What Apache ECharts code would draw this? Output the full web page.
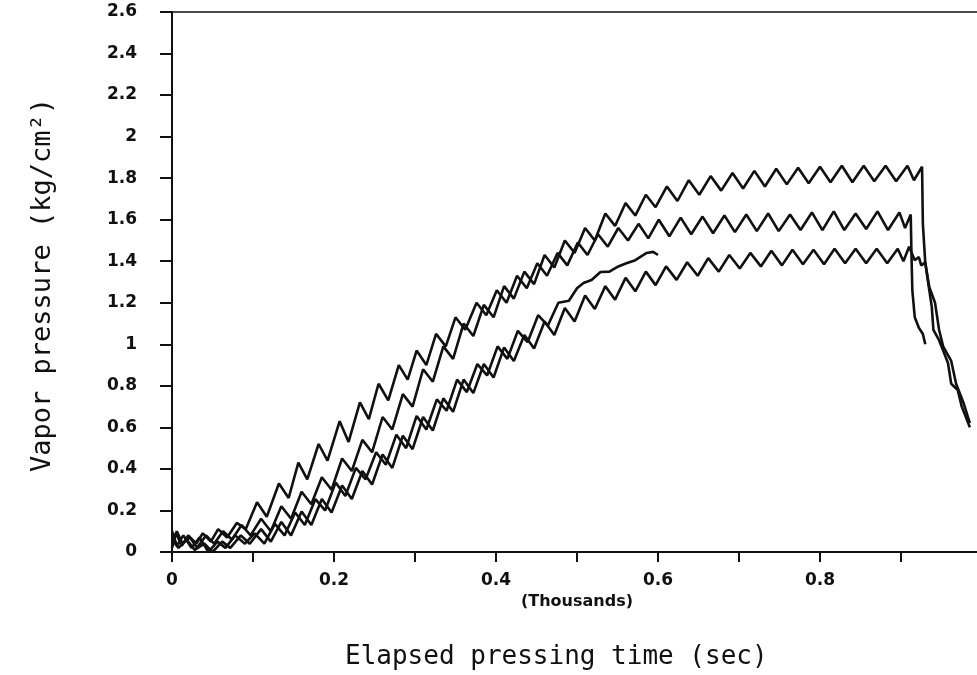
<!DOCTYPE html>
<html lang="en">
<head>
  <meta charset="utf-8">
  <style>
    html, body { margin: 0; padding: 0; background: #fff; }
    #container { width: 977px; height: 675px; }
  </style>
</head>
<body>
  <div id="container"></div>
  <script type="text/javascript" src="https://fastly.jsdelivr.net/npm/echarts@6/dist/echarts.min.js"></script>
  <script type="text/javascript">
    // elapsed time in thousands of seconds, vapor pressure in kg/cm2
    var curveA = [
      [0,0.02],[0.005,0.09],[0.012,0.03],[0.02,0.08],[0.03,0.04],[0.038,0.09],[0.048,0.05],[0.057,0.11],[0.068,0.07],[0.08,0.14],[0.091,0.11],
      [0.105,0.24],[0.117,0.17],[0.132,0.33],[0.144,0.26],[0.156,0.43],[0.167,0.35],[0.181,0.52],[0.192,0.44],[0.207,0.63],[0.218,0.53],
      [0.232,0.72],[0.243,0.64],[0.255,0.81],[0.267,0.73],[0.28,0.9],[0.291,0.83],[0.302,0.97],[0.314,0.9],[0.326,1.05],[0.338,0.99],
      [0.35,1.13],[0.362,1.07],[0.376,1.2],[0.388,1.14],[0.401,1.26],[0.413,1.2],[0.426,1.33],[0.438,1.27],[0.451,1.39],[0.463,1.33],
      [0.476,1.44],[0.488,1.38],[0.501,1.49],[0.513,1.43],[0.526,1.53],[0.538,1.47],[0.551,1.56],[0.563,1.5],[0.576,1.58],[0.588,1.51],
      [0.601,1.6],[0.614,1.52],[0.628,1.61],[0.641,1.53],[0.655,1.615],[0.668,1.535],[0.682,1.62],[0.695,1.54],[0.709,1.625],[0.722,1.545],
      [0.736,1.63],[0.749,1.545],[0.763,1.625],[0.776,1.55],[0.79,1.635],[0.803,1.55],[0.817,1.64],[0.83,1.55],[0.844,1.63],[0.857,1.555],
      [0.871,1.64],[0.884,1.55],[0.898,1.635],[0.905,1.56],[0.912,1.625],[0.913,1.42],[0.914,1.26],[0.917,1.13],[0.922,1.08],[0.927,1.05],[0.93,1.0]
    ];
    var curveB = [
      [0,0.05],[0.006,0.1],[0.013,0.04],[0.022,0.07],[0.031,0.02],[0.042,0.08],[0.052,0.04],[0.063,0.1],[0.074,0.06],[0.086,0.13],[0.097,0.08],
      [0.11,0.16],[0.122,0.1],[0.135,0.22],[0.147,0.16],[0.16,0.29],[0.172,0.23],[0.185,0.36],[0.197,0.3],[0.21,0.45],[0.222,0.39],
      [0.235,0.54],[0.247,0.48],[0.26,0.65],[0.272,0.59],[0.285,0.76],[0.297,0.7],[0.31,0.88],[0.322,0.82],[0.335,0.99],[0.347,0.93],
      [0.36,1.1],[0.372,1.04],[0.385,1.19],[0.397,1.13],[0.41,1.28],[0.422,1.22],[0.435,1.35],[0.447,1.29],[0.46,1.43],[0.472,1.37],
      [0.485,1.5],[0.497,1.44],[0.51,1.56],[0.522,1.5],[0.535,1.63],[0.547,1.57],[0.56,1.68],[0.572,1.62],[0.585,1.72],[0.597,1.66],
      [0.611,1.76],[0.624,1.69],[0.638,1.79],[0.651,1.72],[0.665,1.81],[0.678,1.74],[0.692,1.825],[0.705,1.75],[0.719,1.835],[0.732,1.76],
      [0.746,1.845],[0.759,1.77],[0.773,1.85],[0.786,1.775],[0.8,1.855],[0.813,1.78],[0.827,1.86],[0.84,1.78],[0.854,1.86],[0.867,1.785],
      [0.881,1.86],[0.894,1.785],[0.908,1.86],[0.916,1.79],[0.926,1.855],[0.927,1.58],[0.93,1.39],[0.935,1.275],[0.942,1.2],[0.947,1.07],
      [0.952,0.99],[0.962,0.92],[0.968,0.81],[0.977,0.72],[0.985,0.62]
    ];
    var curveC = [
      [0,0.06],[0.008,0.02],[0.018,0.06],[0.028,0.01],[0.04,0.04],[0.05,0.0],[0.062,0.05],[0.072,0.02],[0.085,0.08],[0.096,0.04],
      [0.11,0.11],[0.122,0.05],[0.135,0.145],[0.147,0.08],[0.16,0.195],[0.172,0.13],[0.185,0.255],[0.197,0.19],[0.21,0.32],[0.222,0.255],
      [0.235,0.39],[0.247,0.325],[0.26,0.47],[0.272,0.405],[0.285,0.56],[0.297,0.495],[0.31,0.65],[0.322,0.585],[0.335,0.74],[0.347,0.675],
      [0.36,0.83],[0.372,0.765],[0.385,0.905],[0.397,0.84],[0.41,0.985],[0.422,0.92],[0.435,1.045],[0.447,0.98],[0.46,1.11],[0.472,1.045],
      [0.485,1.175],[0.497,1.11],[0.51,1.235],[0.522,1.17],[0.535,1.28],[0.547,1.215],[0.56,1.32],[0.572,1.255],[0.585,1.35],[0.597,1.285],
      [0.61,1.375],[0.623,1.31],[0.636,1.395],[0.649,1.33],[0.662,1.415],[0.675,1.35],[0.688,1.43],[0.701,1.365],[0.714,1.44],[0.727,1.375],
      [0.74,1.45],[0.753,1.38],[0.766,1.455],[0.779,1.385],[0.792,1.455],[0.805,1.385],[0.818,1.46],[0.831,1.39],[0.844,1.46],[0.857,1.39],
      [0.87,1.46],[0.883,1.39],[0.896,1.46],[0.903,1.4],[0.91,1.47],[0.917,1.405],[0.922,1.42],[0.925,1.38],[0.93,1.395],[0.933,1.31],
      [0.938,1.18],[0.94,1.07],[0.947,1.02],[0.952,0.97],[0.958,0.91],[0.962,0.81],[0.97,0.78],[0.975,0.7],[0.985,0.6]
    ];
    var curveS = [
      [0,0.1],[0.006,0.03],[0.014,0.08],[0.024,0.02],[0.034,0.07],[0.045,0.0],[0.056,0.05],[0.066,0.02],[0.078,0.08],[0.09,0.04],
      [0.102,0.09],[0.114,0.04],[0.127,0.135],[0.139,0.08],[0.152,0.19],[0.164,0.13],[0.177,0.255],[0.189,0.2],[0.202,0.335],[0.214,0.27],
      [0.227,0.405],[0.239,0.35],[0.252,0.48],[0.264,0.42],[0.277,0.565],[0.289,0.5],[0.302,0.655],[0.314,0.59],[0.327,0.735],[0.339,0.68],
      [0.352,0.83],[0.364,0.77],[0.377,0.905],[0.389,0.85],[0.402,0.99],[0.414,0.93],[0.427,1.065],[0.439,1.01],[0.452,1.14],[0.464,1.09],
      [0.477,1.2],[0.49,1.21],[0.5,1.27],[0.508,1.295],[0.518,1.31],[0.529,1.348],[0.54,1.35],[0.551,1.375],[0.561,1.39],[0.572,1.405],
      [0.586,1.44],[0.594,1.445],[0.6,1.43]
    ];

    var xTitle = 'Elapsed pressing time (sec)';
    var yTitle = 'Vapor pressure (kg/cm\u00B2)';
    var xUnit = '(Thousands)';

    var tickFont = { fontFamily: 'DejaVu Sans', fontWeight: 'bold', fontSize: 17, color: '#111' };

    function line(data) {
      return {
        type: 'line',
        data: data,
        showSymbol: false,
        smooth: false,
        lineStyle: { color: '#111', width: 2.6 }
      };
    }

    var myChart = echarts.init(document.getElementById('container'));
    myChart.setOption({
      animation: false,
      backgroundColor: '#fff',
      grid: {
        left: 172, top: 12, width: 810, height: 540,
        outerBoundsMode: 'none',
        containLabel: false,
        show: true, borderColor: '#111', borderWidth: 1.5, backgroundColor: 'transparent'
      },
      xAxis: {
        type: 'value',
        min: 0, max: 1, interval: 0.1,
        name: xUnit,
        nameLocation: 'middle',
        nameGap: 34,
        nameTextStyle: { fontFamily: 'DejaVu Sans', fontWeight: 'bold', fontSize: 16, color: '#111' },
        axisLine: { lineStyle: { color: '#111', width: 2 } },
        axisTick: { inside: false, length: 10, lineStyle: { color: '#111', width: 2 } },
        axisLabel: Object.assign({
          margin: 20,
          formatter: function (v) {
            var k = Math.round(v * 10);
            if (k % 2 !== 0) return '';
            return k === 0 ? '0' : (k === 10 ? '1' : (k / 10).toFixed(1));
          }
        }, tickFont),
        splitLine: { show: false }
      },
      yAxis: {
        type: 'value',
        min: 0, max: 2.6, interval: 0.2,
        axisLine: { show: true, lineStyle: { color: '#111', width: 2 } },
        axisTick: { show: true, inside: false, length: 12, lineStyle: { color: '#111', width: 2 } },
        axisLabel: Object.assign({ margin: 35 }, tickFont),
        splitLine: { show: false }
      },
      graphic: [
        {
          type: 'text', x: 345, y: 657,
          style: { text: xTitle, fontFamily: 'DejaVu Sans Mono', fontSize: 26, fill: '#111',
                   textAlign: 'left', textVerticalAlign: 'middle', verticalAlign: 'middle' }
        },
        {
          type: 'text', x: 43, y: 285, rotation: Math.PI / 2,
          style: { text: yTitle, fontFamily: 'DejaVu Sans Mono', fontSize: 27, fill: '#111',
                   textAlign: 'center', textVerticalAlign: 'middle', verticalAlign: 'middle' }
        }
      ],
      series: [line(curveA), line(curveB), line(curveC), line(curveS)]
    });
  </script>
</body>
</html>
